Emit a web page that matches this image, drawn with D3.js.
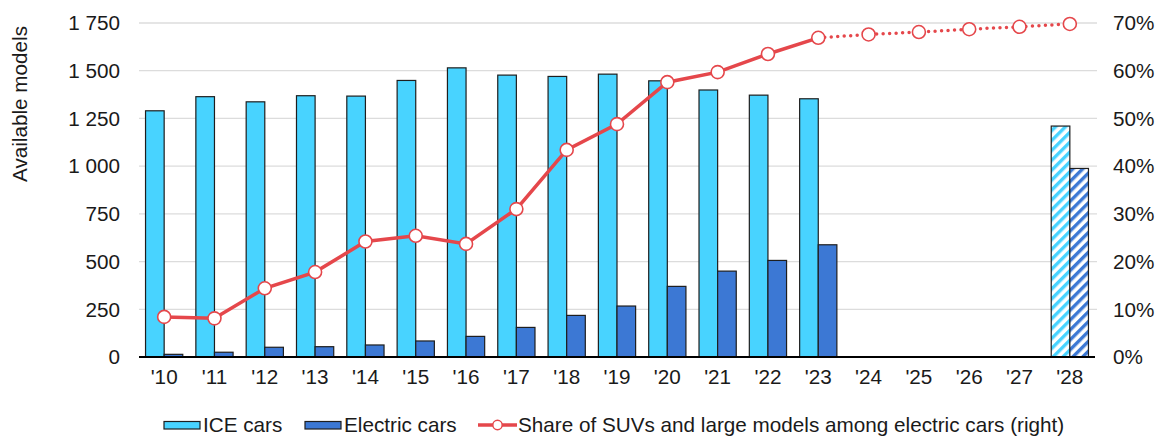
<html>
<head>
<meta charset="utf-8">
<script src="https://d3js.org/d3.v7.min.js"></script>
<style>
  body { margin: 0; padding: 0; background: #fff; overflow: hidden; }
  svg text { font-family: "Liberation Sans", Arial, sans-serif; fill: #1a1a1a; }
</style>
</head>
<body>
<svg id="chart" width="1156" height="438"></svg>
<script>
// data
var years = ["'10","'11","'12","'13","'14","'15","'16","'17","'18","'19","'20","'21","'22","'23","'24","'25","'26","'27","'28"];
var iceCars = [1290, 1364, 1337, 1369, 1367, 1449, 1515, 1477, 1470, 1482, 1447, 1399, 1372, 1353, null, null, null, null, 1210];
var electricCars = [14, 25, 51, 54, 63, 84, 108, 155, 218, 267, 370, 450, 506, 588, null, null, null, null, 988];
var suvShare = [8.4, 8.1, 14.4, 17.8, 24.2, 25.4, 23.7, 31.0, 43.4, 48.8, 57.6, 59.7, 63.5, 66.9, 67.6, 68.1, 68.7, 69.2, 69.8];
var projectedYears = ["'28"];      // hatched bars
var lastActual = "'23";             // dotted line after this
var leftTicks = [0, 250, 500, 750, 1000, 1250, 1500, 1750];
var rightTicks = [0, 10, 20, 30, 40, 50, 60, 70];

var iceColor = "#48d3ff", evColor = "#3c78d4", lineColor = "#e5474b";
var fs = 20.7;

var svg = d3.select("#chart");
var plotL = 139, plotR = 1095, plotT = 23, plotB = 357;

var x = d3.scaleBand().domain(years).range([plotL, plotR]).paddingInner(0.26).paddingOuter(0.13);
var x1 = d3.scaleBand().domain(["ice", "ev"]).range([0, x.bandwidth()]);
var y = d3.scaleLinear().domain([0, 1750]).range([plotB, plotT]);
var y2 = d3.scaleLinear().domain([0, 70]).range([plotB, plotT]);

// hatch patterns
var defs = svg.append("defs");
[["hatch-ice", iceColor], ["hatch-ev", evColor]].forEach(function(p) {
  var pat = defs.append("pattern").attr("id", p[0]).attr("patternUnits", "userSpaceOnUse")
    .attr("width", 7).attr("height", 7).attr("patternTransform", "rotate(45)");
  pat.append("rect").attr("width", 7).attr("height", 7).attr("fill", "#fff");
  pat.append("rect").attr("x", 0).attr("width", 3.4).attr("height", 7).attr("fill", p[1]);
});

// gridlines
svg.append("g").selectAll("line").data(leftTicks.slice(1)).join("line")
  .attr("x1", plotL).attr("x2", plotR + 2)
  .attr("y1", d => y(d)).attr("y2", d => y(d))
  .attr("stroke", "#dcdcdc").attr("stroke-width", 1.3);

// left axis labels
svg.append("g").selectAll("text").data(leftTicks).join("text")
  .attr("x", 120).attr("y", d => y(d)).attr("dy", "0.35em")
  .attr("text-anchor", "end").attr("font-size", fs)
  .text(d => d3.format(",")(d).replace(",", " "));

// right axis labels
svg.append("g").selectAll("text").data(rightTicks).join("text")
  .attr("x", 1113).attr("y", d => y2(d)).attr("dy", "0.35em")
  .attr("text-anchor", "start").attr("font-size", fs)
  .text(d => d + "%");

svg.append("text")
  .attr("transform", "translate(20,104) rotate(-90)")
  .attr("text-anchor", "middle").attr("dy", "0.35em").attr("font-size", fs)
  .text("Available models");

// bars
var groups = svg.append("g").selectAll("g").data(years).join("g")
  .attr("transform", d => "translate(" + x(d) + ",0)");

groups.each(function(yr, i) {
  var g = d3.select(this);
  var proj = projectedYears.indexOf(yr) >= 0;
  if (iceCars[i] != null) {
    g.append("rect").attr("x", x1("ice")).attr("width", x1.bandwidth())
      .attr("y", y(iceCars[i])).attr("height", y(0) - y(iceCars[i]))
      .attr("fill", proj ? "url(#hatch-ice)" : iceColor)
      .attr("stroke", "#1e1e1e").attr("stroke-width", 1.2);
  }
  if (electricCars[i] != null) {
    g.append("rect").attr("x", x1("ev")).attr("width", x1.bandwidth())
      .attr("y", y(electricCars[i])).attr("height", y(0) - y(electricCars[i]))
      .attr("fill", proj ? "url(#hatch-ev)" : evColor)
      .attr("stroke", "#1e1e1e").attr("stroke-width", 1.2);
  }
});

// x axis line
svg.append("line").attr("x1", plotL).attr("x2", plotR).attr("y1", y(0)).attr("y2", y(0))
  .attr("stroke", "#000").attr("stroke-width", 1.8);

svg.append("g").selectAll("text").data(years).join("text")
  .attr("x", d => x(d) + x.bandwidth() / 2).attr("y", 377).attr("dy", "0.35em")
  .attr("text-anchor", "middle").attr("font-size", fs)
  .text(d => d);

// share line
var pts = years.map((d, i) => ({ yr: d, v: suvShare[i] }));
var cut = years.indexOf(lastActual);
var line = d3.line().x(d => x(d.yr) + x.bandwidth() / 2).y(d => y2(d.v));

svg.append("path").attr("d", line(pts.slice(0, cut + 1)))
  .attr("fill", "none").attr("stroke", lineColor).attr("stroke-width", 3.5);
svg.append("path").attr("d", line(pts.slice(cut)))
  .attr("fill", "none").attr("stroke", lineColor).attr("stroke-width", 3.5)
  .attr("stroke-linecap", "round").attr("stroke-dasharray", "0 6.5");

svg.append("g").selectAll("circle").data(pts).join("circle")
  .attr("cx", d => x(d.yr) + x.bandwidth() / 2).attr("cy", d => y2(d.v))
  .attr("r", 6.5).attr("fill", "#fff").attr("stroke", lineColor).attr("stroke-width", 1.6);

// legend
var lg = svg.append("g").attr("font-size", fs);
var ly = 425;
lg.append("rect").attr("x", 164).attr("y", ly - 3.5).attr("width", 36).attr("height", 7.5)
  .attr("fill", iceColor).attr("stroke", "#1e1e1e").attr("stroke-width", 1.2);
lg.append("text").attr("x", 203).attr("y", ly).attr("dy", "0.35em").text("ICE cars");
lg.append("rect").attr("x", 305).attr("y", ly - 3.5).attr("width", 36).attr("height", 7.5)
  .attr("fill", evColor).attr("stroke", "#1e1e1e").attr("stroke-width", 1.2);
lg.append("text").attr("x", 344).attr("y", ly).attr("dy", "0.35em").text("Electric cars");
lg.append("line").attr("x1", 478).attr("x2", 517).attr("y1", ly).attr("y2", ly)
  .attr("stroke", lineColor).attr("stroke-width", 3.5);
lg.append("circle").attr("cx", 497.5).attr("cy", ly).attr("r", 4.7)
  .attr("fill", "#fff").attr("stroke", lineColor).attr("stroke-width", 1.5);
lg.append("text").attr("x", 518).attr("y", ly).attr("dy", "0.35em")
  .text("Share of SUVs and large models among electric cars (right)");
</script>
</body>
</html>
